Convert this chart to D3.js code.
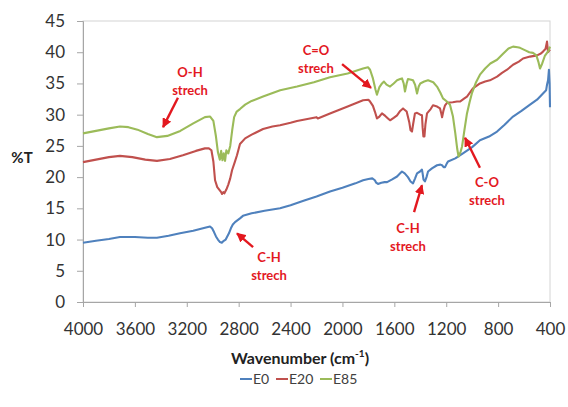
<!DOCTYPE html>
<html>
<head>
<meta charset="utf-8">
<script src="https://cdn.jsdelivr.net/npm/d3@7"></script>
<style>
  html, body { margin: 0; padding: 0; background: #fff; }
  svg { display: block; font-family: Lato, "Open Sans", sans-serif; }
</style>
</head>
<body>
<svg id="chart" width="568" height="407"></svg>
<script>
// FTIR spectra: wavenumber (cm-1) and transmittance (%T) for each sample
const waveE0 = [4000, 3900, 3800, 3715, 3600, 3500, 3430, 3340, 3252, 3150, 3060, 3021, 3005, 2990, 2975, 2960, 2944, 2930, 2915, 2900, 2890, 2875, 2860, 2845, 2828, 2790, 2767, 2700, 2600, 2481, 2400, 2300, 2200, 2096, 2000, 1900, 1841, 1800, 1770, 1750, 1740, 1726, 1700, 1675, 1656, 1620, 1579, 1555, 1541, 1520, 1495, 1475, 1456, 1440, 1425, 1402, 1387, 1382, 1375, 1364, 1352, 1340, 1310, 1271, 1245, 1232, 1220, 1209, 1195, 1186, 1130, 1071, 1000, 940, 870, 808, 750, 685, 620, 554, 500, 454, 430, 423, 415, 408, 403, 400];
const transE0 = [9.5, 9.8, 10.1, 10.4, 10.4, 10.3, 10.3, 10.6, 11.0, 11.4, 11.9, 12.1, 11.8, 11.2, 10.5, 10.0, 9.6, 9.5, 9.8, 10.0, 10.4, 11.0, 11.8, 12.4, 12.8, 13.4, 13.8, 14.2, 14.6, 15.0, 15.5, 16.2, 16.9, 17.7, 18.3, 19.0, 19.5, 19.7, 19.8, 19.5, 19.1, 18.9, 19.1, 19.2, 19.2, 19.6, 20.1, 20.6, 20.9, 20.6, 20.0, 19.3, 19.0, 19.8, 20.6, 20.9, 21.2, 20.6, 19.6, 19.3, 20.0, 20.9, 21.4, 21.9, 22.0, 21.9, 21.6, 21.6, 22.2, 22.5, 23.0, 23.8, 24.8, 25.9, 26.5, 27.3, 28.4, 29.7, 30.6, 31.6, 32.4, 33.4, 33.9, 34.8, 35.5, 37.2, 35.0, 31.2];

const waveE20 = [4000, 3900, 3800, 3715, 3620, 3520, 3430, 3330, 3230, 3130, 3060, 3030, 3010, 2995, 2982, 2965, 2950, 2935, 2928, 2918, 2910, 2895, 2880, 2865, 2851, 2830, 2813, 2790, 2750, 2700, 2612, 2540, 2481, 2400, 2350, 2300, 2200, 2190, 2096, 1960, 1841, 1800, 1787, 1765, 1750, 1734, 1715, 1695, 1670, 1649, 1633, 1605, 1579, 1555, 1533, 1505, 1485, 1475, 1464, 1455, 1441, 1425, 1400, 1387, 1382, 1376, 1368, 1360, 1348, 1320, 1302, 1270, 1248, 1238, 1232, 1222, 1209, 1194, 1150, 1117, 1094, 1060, 1040, 994, 940, 900, 863, 808, 770, 731, 685, 640, 608, 554, 500, 470, 454, 435, 423, 415, 400];
const transE20 = [22.4, 22.8, 23.2, 23.4, 23.2, 22.8, 22.6, 22.9, 23.5, 24.2, 24.6, 24.6, 24.3, 22.5, 19.5, 18.4, 18.0, 17.6, 17.3, 17.6, 17.4, 18.0, 18.8, 19.8, 21.1, 22.4, 23.5, 25.3, 26.2, 26.8, 27.7, 28.1, 28.3, 28.7, 29.0, 29.2, 29.6, 29.4, 30.2, 31.3, 32.3, 32.4, 32.1, 31.4, 30.5, 29.4, 29.7, 30.2, 29.8, 29.4, 29.1, 29.5, 29.9, 30.6, 31.0, 30.5, 28.8, 27.5, 27.3, 28.5, 30.2, 30.3, 30.0, 29.9, 28.0, 26.5, 26.5, 28.5, 30.2, 30.9, 31.5, 31.3, 31.0, 30.2, 29.6, 30.6, 31.5, 31.9, 32.0, 32.1, 32.1, 32.6, 32.9, 34.2, 35.0, 35.3, 35.5, 36.1, 36.7, 37.2, 38.0, 38.5, 39.0, 39.3, 39.5, 39.8, 40.1, 40.5, 41.7, 40.0, 40.4];

const waveE85 = [4000, 3900, 3800, 3715, 3650, 3580, 3500, 3430, 3350, 3250, 3150, 3060, 3020, 2995, 2975, 2960, 2945, 2935, 2925, 2915, 2905, 2895, 2880, 2865, 2850, 2835, 2815, 2790, 2750, 2700, 2612, 2480, 2350, 2220, 2096, 1960, 1841, 1803, 1787, 1765, 1745, 1734, 1715, 1695, 1680, 1660, 1633, 1605, 1579, 1555, 1541, 1528, 1518, 1505, 1495, 1470, 1456, 1440, 1425, 1412, 1400, 1370, 1340, 1300, 1271, 1245, 1225, 1195, 1171, 1148, 1130, 1115, 1105, 1090, 1078, 1060, 1040, 1020, 1001, 970, 940, 900, 860, 808, 760, 720, 685, 650, 631, 590, 560, 531, 505, 490, 477, 460, 440, 423, 410, 400];
const transE85 = [27.0, 27.4, 27.8, 28.1, 28.0, 27.6, 26.9, 26.4, 26.6, 27.4, 28.6, 29.6, 29.7, 29.0, 26.5, 24.0, 22.8, 24.2, 22.7, 23.8, 22.6, 24.3, 23.8, 25.0, 27.5, 29.6, 30.5, 30.9, 31.6, 32.2, 32.9, 33.9, 34.5, 35.2, 36.0, 36.6, 37.4, 37.6, 37.2, 35.8, 34.0, 33.2, 34.4, 35.0, 35.3, 34.8, 34.5, 35.0, 35.5, 35.7, 35.8, 35.0, 33.7, 35.0, 35.7, 35.6, 35.5, 34.8, 33.4, 34.5, 35.0, 35.3, 35.5, 35.2, 34.5, 33.5, 32.6, 32.1, 31.6, 29.7, 27.0, 24.5, 23.3, 24.0, 24.9, 27.5, 30.2, 32.0, 33.5, 35.2, 36.4, 37.4, 38.2, 38.8, 39.8, 40.6, 40.9, 40.8, 40.7, 40.3, 40.0, 39.9, 39.5, 38.5, 37.4, 38.2, 39.4, 39.9, 40.3, 40.9];

const seriesNames = ["E0", "E20", "E85"];
const seriesColors = ["#4f81bd", "#c0504d", "#9bbb59"];
const xTicks = [4000, 3600, 3200, 2800, 2400, 2000, 1600, 1200, 800, 400];
const yTicks = [0, 5, 10, 15, 20, 25, 30, 35, 40, 45];

// Band assignments: arrow tip, arrow tail and label anchor, in data units
const bandLabels = ["O-H", "C=O", "C-H", "C-H", "C-O"];
const bandTips = [[3383, 28.0], [1780, 34.3], [2813, 11.0], [1387, 18.7], [1055, 26.3]];
const bandTails = [[3268, 32.7], [2003, 38.1], [2689, 8.8], [1448, 14.4], [940, 21.5]];
const bandText = [[3175, 36.0], [2204, 39.6], [2566, 6.4], [1495, 11.1], [886, 18.4]];

const svg = d3.select("#chart");
const m = { left: 83, right: 550, top: 21, bottom: 302 };

const x = d3.scaleLinear().domain([4000, 400]).range([m.left, m.right]);
const y = d3.scaleLinear().domain([0, 45]).range([m.bottom, m.top]);

// plot area frame
svg.append("rect")
  .attr("x", m.left).attr("y", m.top)
  .attr("width", m.right - m.left).attr("height", m.bottom - m.top)
  .attr("fill", "none").attr("stroke", "#d4d4d4").attr("stroke-width", 1);

// axes
const yAxis = svg.append("g")
  .attr("transform", `translate(${m.left},0)`)
  .call(d3.axisLeft(y).tickValues(yTicks).tickSize(6).tickPadding(12).tickFormat(d3.format("d")));
const xAxis = svg.append("g")
  .attr("transform", `translate(0,${m.bottom})`)
  .call(d3.axisBottom(x).tickValues(xTicks).tickSize(5).tickPadding(16).tickFormat(d3.format("d")));

[yAxis, xAxis].forEach(g => {
  g.select(".domain").attr("stroke", "#a6a6a6");
  g.selectAll(".tick line").attr("stroke", "#a6a6a6");
  g.selectAll(".tick text")
    .attr("fill", "#333")
    .style("font-family", "Lato, sans-serif")
    .style("font-size", "17px");
});

// spectra
const waves = [waveE0, waveE20, waveE85];
const trans = [transE0, transE20, transE85];
const line = d3.line().x(d => x(d[0])).y(d => y(d[1]));

seriesNames.forEach((name, i) => {
  const pts = d3.zip(waves[i], trans[i]);
  svg.append("path")
    .datum(pts)
    .attr("fill", "none")
    .attr("stroke", seriesColors[i])
    .attr("stroke-width", 2.1)
    .attr("stroke-linejoin", "round")
    .attr("d", line);
});

// arrowhead marker
svg.append("defs").append("marker")
  .attr("id", "arrowHead")
  .attr("viewBox", "0 0 10 10")
  .attr("refX", 9).attr("refY", 5)
  .attr("markerWidth", 4).attr("markerHeight", 4)
  .attr("markerUnits", "strokeWidth")
  .attr("orient", "auto")
  .append("path")
  .attr("d", "M0,0 L10,5 L0,10 Z")
  .attr("fill", "#e3181f");

bandLabels.forEach((lab, i) => {
  svg.append("line")
    .attr("x1", x(bandTails[i][0])).attr("y1", y(bandTails[i][1]))
    .attr("x2", x(bandTips[i][0])).attr("y2", y(bandTips[i][1]))
    .attr("stroke", "#e3181f").attr("stroke-width", 2.4)
    .attr("marker-end", "url(#arrowHead)");
  const t = svg.append("text")
    .attr("x", x(bandText[i][0])).attr("y", y(bandText[i][1]))
    .attr("text-anchor", "middle")
    .attr("fill", "#e3181f")
    .style("font-weight", "bold")
    .style("font-size", "13px");
  t.append("tspan").attr("x", x(bandText[i][0])).text(lab);
  t.append("tspan").attr("x", x(bandText[i][0])).attr("dy", 18).text("strech");
});

// axis titles
svg.append("text")
  .attr("x", 22).attr("y", 163)
  .attr("text-anchor", "middle")
  .attr("fill", "#222")
  .style("font-weight", "bold")
  .style("font-size", "15px")
  .text("%T");

const xt = svg.append("text")
  .attr("x", 300).attr("y", 364)
  .attr("text-anchor", "middle")
  .attr("fill", "#222")
  .style("font-weight", "bold")
  .style("font-size", "16px");
xt.append("tspan").text("Wavenumber (cm");
xt.append("tspan").attr("dy", -7).style("font-size", "10px").text("-1");
xt.append("tspan").attr("dy", 7).text(")");

// legend
const legendX = [240, 276, 320];
const legend = svg.append("g");
seriesNames.forEach((name, i) => {
  legend.append("line")
    .attr("x1", legendX[i]).attr("x2", legendX[i] + 12)
    .attr("y1", 379).attr("y2", 379)
    .attr("stroke", seriesColors[i]).attr("stroke-width", 2);
  legend.append("text")
    .attr("x", legendX[i] + 13).attr("y", 384)
    .attr("fill", "#404040")
    .style("font-size", "14px")
    .text(name);
});
</script>
</body>
</html>
